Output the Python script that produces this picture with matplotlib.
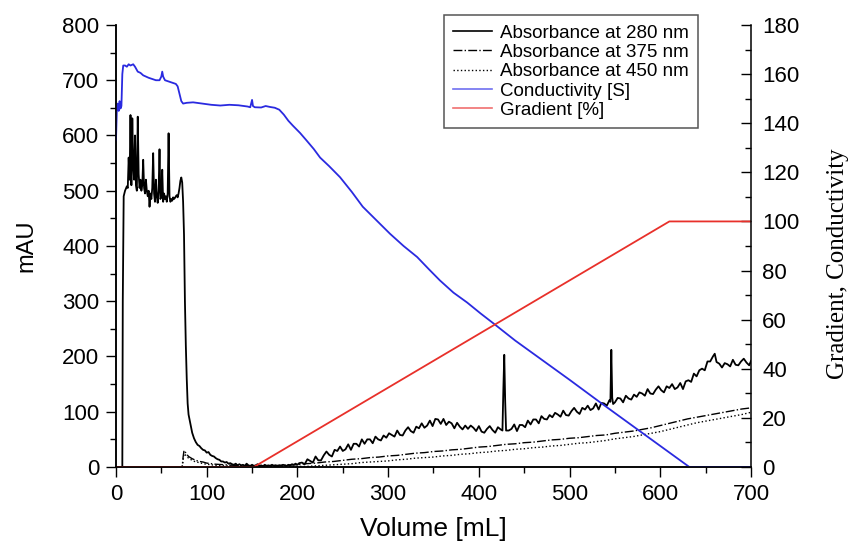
import matplotlib
matplotlib.use('Agg')
import matplotlib.pyplot as plt
from matplotlib.lines import Line2D
from matplotlib.ticker import MultipleLocator

plt.rcParams['font.family'] = ['Liberation Sans', 'DejaVu Sans']

# Absorbance at 280 nm (mAU)
vol_280 = [0, 7, 7.5, 8.5, 10, 12, 13, 14, 15, 16, 17, 18, 19, 20, 21, 22, 23, 24, 25, 26,
           27, 28, 29, 30, 31, 32, 33, 34, 35, 36, 37, 38, 39, 40, 41, 42, 43, 44, 45, 46,
           47, 48, 49, 50, 51, 52, 53, 54, 55, 56, 57, 58, 59, 60, 61, 62, 63, 64, 65, 66,
           67, 68, 69, 70, 71, 72, 73, 74, 75, 76, 77, 78, 79, 80, 82, 84, 86, 88, 90, 92,
           94, 96, 98, 100, 102, 104, 106, 108, 110, 112, 114, 116, 118, 120, 122, 124, 126, 128, 130, 132,
           134, 136, 138, 140, 142, 144, 146, 148, 150, 152, 154, 156, 158, 160, 162, 164, 166, 168, 170, 172,
           174, 176, 178, 180, 182, 184, 186, 188, 190, 192, 194, 196, 198, 200, 202,
           205, 208, 211, 214, 217, 220, 223, 226, 229, 232, 235, 238, 241, 244, 247, 250, 253, 256, 259, 262,
           265, 268, 271, 274, 277, 280, 283, 286, 289, 292, 295, 298, 301, 304, 307, 310, 313, 316, 319, 322,
           325, 328, 331, 334, 337, 340, 343, 346, 349, 352, 355, 358, 361, 364, 367, 370, 373, 376, 379, 382,
           385, 388, 391, 394, 397, 400, 403, 406, 409, 412, 415, 418, 421, 424, 426, 427, 428, 429, 430, 433,
           436, 439, 442, 445, 448, 451, 454, 457, 460, 463, 466, 469, 472, 475, 478, 481, 484, 487, 490, 493,
           496, 499, 502, 505, 508, 511, 514, 517, 520, 523, 526, 529, 532, 535, 538, 541, 544, 545, 546, 547,
           548, 550, 553, 556, 559, 562, 565, 568, 571, 574, 577, 580, 583, 586, 589, 592, 595, 598, 601, 604,
           607, 610, 613, 616, 619, 622, 625, 628, 631, 634, 637, 640, 643, 646, 649, 652, 655, 658, 660, 662,
           665, 668, 671, 674, 677, 680, 683, 686, 689, 692, 695, 698, 700]
abs_280 = [0, 0, 300, 490, 500, 508, 505, 560, 520, 637, 510, 631, 545, 520, 600, 510, 500, 634, 530, 505,
           520, 500, 510, 556, 505, 495, 520, 500, 490, 500, 471, 495, 485, 505, 568, 495, 480, 520, 490, 478,
           500, 575, 485, 490, 538, 480, 495, 485, 490, 480, 495, 604, 490, 480, 485, 482, 488, 485, 487, 490,
           492, 488, 495, 505, 518, 524, 515, 480, 420, 300, 220, 160, 115, 95, 78, 62, 52, 45, 40, 38,
           34, 31, 30, 26, 27, 22, 20, 19, 16, 14, 13, 10, 10, 8, 9, 6, 7, 5, 4, 6,
           3, 5, 3, 4, 2, 6, 3, 2, 4, 2, 3, 5, 2, 3, 1, 4, 2, 3, 2, 4,
           2, 3, 1, 3, 2, 4, 3, 2, 4, 3, 5, 4, 6, 4, 7,
           8, 5, 14, 11, 8, 19, 12, 12, 21, 28, 22, 19, 31, 29, 37, 29, 32, 41, 31, 42,
           42, 37, 50, 42, 50, 50, 43, 55, 50, 48, 57, 53, 61, 58, 55, 66, 58, 57, 66, 72,
           65, 62, 73, 70, 79, 71, 75, 84, 74, 87, 86, 78, 87, 76, 82, 79, 70, 80, 73, 68,
           75, 69, 75, 71, 65, 74, 64, 62, 69, 74, 67, 62, 72, 68, 66, 140, 203, 120, 66, 66,
           69, 77, 65, 76, 76, 72, 84, 77, 86, 86, 79, 92, 87, 86, 94, 90, 98, 95, 91, 102,
           94, 93, 101, 107, 100, 96, 107, 104, 111, 103, 106, 115, 104, 116, 115, 111, 121, 118, 212, 125,
           114, 117, 125, 124, 117, 129, 124, 122, 131, 127, 135, 133, 129, 141, 133, 132, 140, 146, 139, 135,
           146, 143, 150, 141, 144, 152, 141, 155, 157, 154, 169, 164, 175, 178, 175, 191, 191, 200, 205, 190,
           187, 180, 188, 186, 182, 194, 185, 184, 191, 196, 189, 184, 192]

# Absorbance at 375 nm and 450 nm (mAU)
vol_vis = [0, 73, 74, 75, 76, 78, 80, 84, 88, 92, 96, 100, 105, 110, 120, 130, 150, 180, 200, 210,
           220, 230, 240, 250, 260, 270, 280, 290, 300, 310, 320, 330, 340, 350, 360, 370, 380, 390, 400, 410,
           420, 430, 440, 450, 460, 470, 480, 490, 500, 510, 520, 530, 540, 550, 560, 570, 580, 590, 600, 610,
           620, 630, 640, 650, 660, 670, 680, 690, 700]
abs_375 = [0, 0, 18, 30, 28, 23, 19, 15, 12, 10, 9, 7, 6, 5, 4, 3, 2, 3, 4, 6,
           7, 9, 10, 12, 14, 15, 17, 18, 20, 21, 23, 25, 26, 28, 29, 31, 32, 34, 36, 37,
           39, 41, 42, 44, 45, 47, 49, 50, 52, 53, 55, 57, 58, 61, 63, 65, 68, 71, 75, 79,
           83, 87, 90, 93, 96, 99, 102, 105, 107]
abs_450 = [0, 0, 12, 24, 23, 19, 16, 12, 9, 8, 6, 5, 4, 3, 2, 2, 1, 1, 1, 1,
           2, 3, 4, 5, 6, 8, 9, 10, 11, 13, 14, 16, 17, 18, 20, 21, 23, 24, 26, 27,
           29, 30, 32, 33, 35, 36, 38, 39, 41, 43, 44, 46, 48, 51, 53, 55, 58, 61, 64, 68,
           72, 76, 80, 83, 86, 89, 92, 95, 99]

# Conductivity (right axis)
vol_cond = [0, 1, 2, 3, 4, 5, 6, 7, 8, 10, 12, 14, 16, 19, 21, 24, 27, 30, 33, 36,
            40, 44, 48, 50, 51, 52, 54, 58, 62, 66, 68, 70, 72, 74, 78, 85, 95, 105, 115, 125,
            135, 145, 148, 150, 151, 153, 160, 165, 170, 175, 180, 185, 190, 195, 203, 210, 218, 225, 235, 247,
            260, 272, 287, 302, 317, 332, 345, 357, 372, 387, 402, 416, 440, 470, 500, 533, 632, 700]
conductivity = [133, 146, 148, 145, 149, 146, 147, 160, 163.5, 163.5, 163, 164, 163.5, 164, 163, 161, 160.5, 159.5, 159, 158.5,
                158, 157.5, 157.5, 159, 161, 159, 157.5, 157, 156.5, 156, 155, 152, 149, 148, 148.3, 148.5, 148, 147.5, 147.2, 147.5,
                147.3, 146.8, 146.5, 149.5, 147, 146.5, 146.4, 147, 146.6, 146.3, 145.5, 143.5, 141, 139, 136, 133, 129.5, 126, 122.5, 118,
                112, 106, 100.5, 95, 90, 85.5, 80.5, 76, 71, 67, 62.5, 58.5, 51.5, 43.5, 35.5, 26.5, 0, 0]

# Gradient (right axis, %)
vol_grad = [0, 152, 610, 700]
gradient = [0, 0, 100, 100]

fig = plt.figure(figsize=(8.49, 5.42), dpi=100)
ax = fig.add_axes([0.1366, 0.1384, 0.748, 0.8155])
ax2 = ax.twinx()

ax.plot(vol_280, abs_280, color='black', lw=1.3)
ax.plot(vol_vis, abs_375, color='black', lw=1.0, ls='-.')
ax.plot(vol_vis, abs_450, color='black', lw=1.0, ls=':')
ax2.plot(vol_cond, conductivity, color='#2a2ae0', lw=1.3)
ax2.plot(vol_grad, gradient, color='#e8302a', lw=1.3)

ax.set_xlim(0, 700)
ax.set_ylim(0, 800)
ax2.set_ylim(0, 180)

ax.xaxis.set_major_locator(MultipleLocator(100))
ax.xaxis.set_minor_locator(MultipleLocator(50))
ax.yaxis.set_major_locator(MultipleLocator(100))
ax.yaxis.set_minor_locator(MultipleLocator(50))
ax2.yaxis.set_major_locator(MultipleLocator(20))
ax2.yaxis.set_minor_locator(MultipleLocator(10))

ax.tick_params(axis='both', which='major', direction='out', length=7, width=1, labelsize=16, pad=5)
ax.tick_params(axis='both', which='minor', direction='out', length=4, width=1)
ax2.tick_params(axis='y', which='major', direction='in', length=7, width=1, labelsize=16, pad=8)
ax2.tick_params(axis='y', which='minor', direction='in', length=4, width=1)

for a in (ax, ax2):
    a.spines['top'].set_visible(False)
    for s in a.spines.values():
        s.set_linewidth(1.1)
ax.spines['right'].set_visible(False)

ax.set_xlabel('Volume [mL]', fontsize=19, labelpad=9)
ax.set_ylabel('mAU', fontsize=17, labelpad=18)
fig.text(838 / 849, 1 - 264 / 542, 'Gradient, Conductivity', rotation=90,
         ha='center', va='center', fontsize=18, family='Liberation Serif')

handles = [Line2D([], [], color='black', lw=1.2),
           Line2D([], [], color='black', lw=1.0, ls='-.'),
           Line2D([], [], color='black', lw=1.0, ls=':'),
           Line2D([], [], color='#7070f0', lw=1.2),
           Line2D([], [], color='#f07070', lw=1.2)]
labels = ['Absorbance at 280 nm', 'Absorbance at 375 nm', 'Absorbance at 450 nm',
          'Conductivity [S]', 'Gradient [%]']
leg = ax2.legend(handles, labels, loc='upper right', bbox_to_anchor=(698 / 849, 1 - 15 / 542),
                 bbox_transform=fig.transFigure, borderaxespad=0, fontsize=13.5, handlelength=2.1,
                 handletextpad=0.4, labelspacing=0.12, borderpad=0.5, fancybox=False,
                 framealpha=1, edgecolor='#555555')
leg.get_frame().set_linewidth(1.1)

fig.savefig('out.png', dpi=100)
